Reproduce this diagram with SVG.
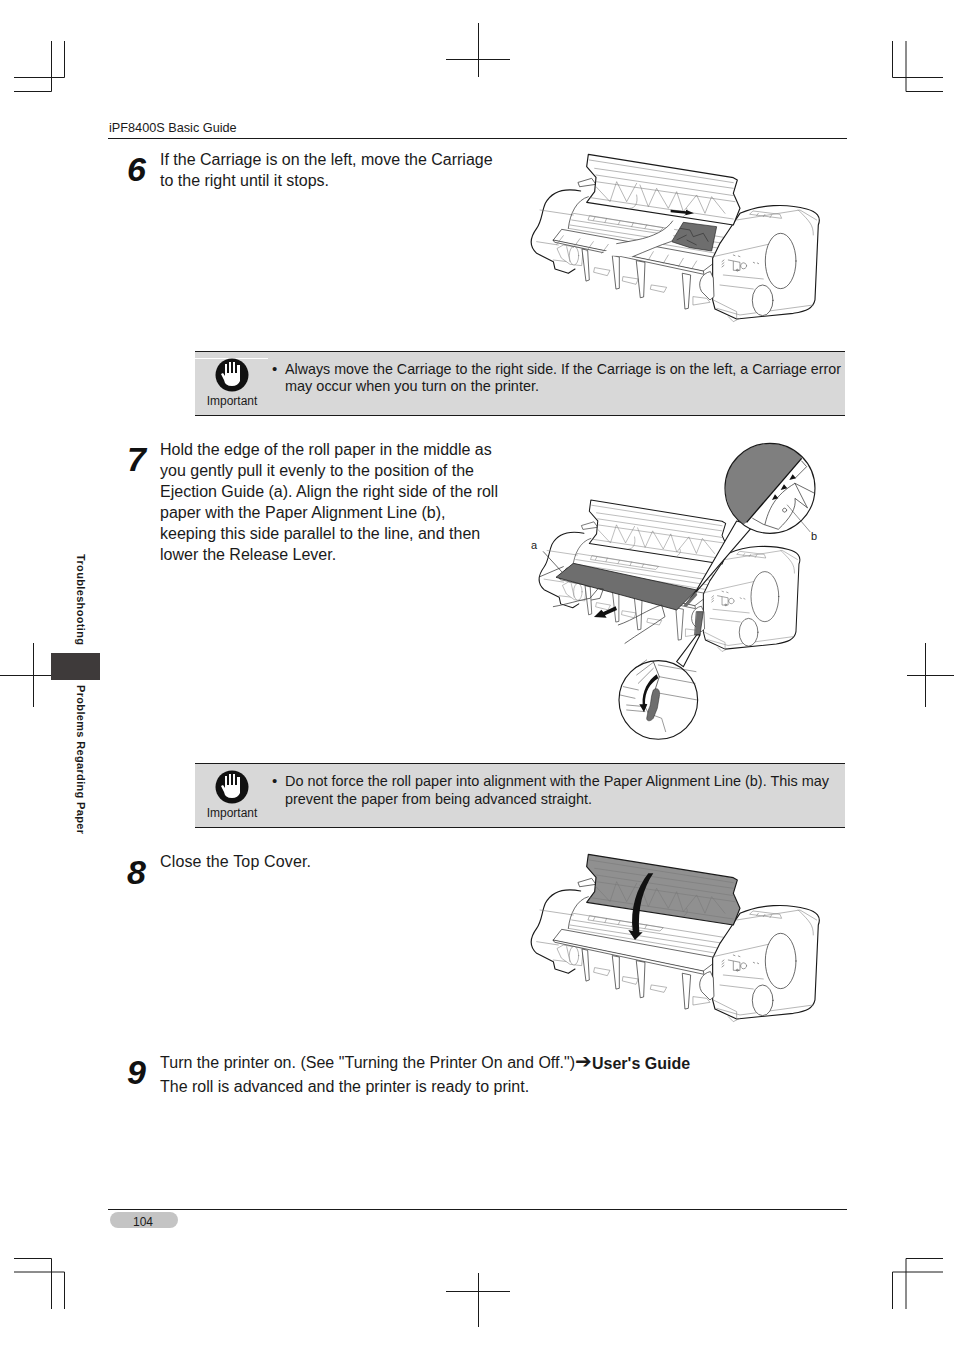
<svg xmlns="http://www.w3.org/2000/svg" width="954" height="1350" viewBox="0 0 954 1350">
<style>
text{font-family:"Liberation Sans",Arial,sans-serif;fill:#1a1a1a}
.b{font-size:16px}
.n{font-size:15px}
.num{font-size:34px;font-weight:bold;font-style:italic;fill:#111}
.imp{font-size:12px}
.side{font-size:11px;font-weight:bold}
.lbl{font-size:11px}
.crop{stroke:#1a1a1a;stroke-width:1;fill:none}
.rule{stroke:#1a1a1a;stroke-width:1.2;fill:none}
.box{fill:#d8d8d8}
.o{stroke:#1a1a1a;stroke-width:3.4;stroke-linejoin:round;stroke-linecap:round}
.t{stroke:#777;stroke-width:1.6;fill:none;stroke-linecap:round;stroke-linejoin:round}
.m{stroke:#333;stroke-width:2.2;fill:none;stroke-linecap:round;stroke-linejoin:round}
.w{fill:#fff}
.g{fill:#6e6e6e}
</style>
<defs>
<clipPath id="lens"><circle cx="750" cy="160" r="134"/></clipPath>
<g id="lid-shape">
<path class="o" d="M205,28 L200,65 L228,97 L224,140 L200,172 L640,240 L660,190 L640,145 L652,105 L640,98 Z"/>
<path class="t" d="M208,45 L640,113 M224,70 L640,130 M228,90 L642,152 M228,110 L645,170 M212,158 L640,222 M228,125 L270,170 L290,110 L320,170 L350,115 M360,120 L385,185 L410,130 L445,190 L470,140 L490,200 L530,150 L555,205 L575,155 L615,205 M350,150 C355,175 345,190 330,190 M500,190 C510,205 485,215 490,215"/>
</g>
<g id="printer-base">
<path class="w" d="M182,138 C130,128 95,140 76,175 C65,200 66,228 50,250 C28,280 28,305 50,325 L100,350 L105,372 L145,385 L190,365 L240,200 Z"/>
<path class="o" fill="none" d="M182,138 C130,128 95,140 76,175 C65,200 66,228 50,250 C28,280 28,305 50,325 L100,350 L105,372 L145,385 L165,372"/>
<path class="t" d="M60,195 L160,210 M50,290 L115,300 M100,345 L185,355"/>
<path class="m w" d="M175,112 L215,100 L228,118 L180,125 Z"/>
<path class="t" d="M160,205 L630,280 M155,225 L610,295 M150,240 L600,310 M145,250 L590,325 M210,212 L430,248 L420,258 L205,225 Z M225,216 L220,226 M260,220 L255,232 M300,228 L295,238 M340,233 L335,245 M380,240 L375,250"/>
<path class="m" d="M145,250 C150,205 170,165 205,155"/>
<path class="t w" d="M112,310 L130,300 L190,310 L185,362 L150,358 L125,340 Z M140,305 L150,350"/>
<ellipse class="t w" cx="162" cy="332" rx="14" ry="28"/>
<path class="t w" d="M225,368 L270,376 L262,392 L222,382 Z M310,395 L355,402 L348,418 L308,408 Z M395,420 L440,427 L432,442 L392,433 Z M520,455 L560,460 L570,472 L520,480 Z"/>
<path class="m w" d="M187,312 L203,316 L208,405 L199,408 Z"/>
<path class="m w" d="M278,332 L298,336 L298,430 L289,432 Z"/>
<path class="m w" d="M350,347 L375,352 L371,456 L362,458 Z"/>
<path class="m w" d="M488,385 L512,390 L505,490 L496,492 Z"/>
<path class="m w" d="M100,285 L125,253 L600,340 L550,378 Z"/>
<path class="m w" d="M100,285 L550,378 L552,388 L105,292 Z"/>
<path class="o w" d="M660,205 C720,178 800,175 860,192 C890,200 905,215 895,240 L885,465 C880,490 860,498 820,505 L650,522 L585,492 L578,465 L578,340 L600,295 L625,258 Z"/>
<path class="t" d="M580,335 L745,298 M580,465 L650,500 L650,520 M690,208 L785,220 L780,208 L700,198 Z M715,205 L710,212 M735,208 L730,215 M755,210 L750,218 M650,225 L840,195 L890,225 M600,420 L700,432 M610,390 L730,402 M590,490 L660,510 L880,480 M835,195 C870,230 880,240 880,270"/>
<path class="t" style="stroke:#444" d="M606,350 L612,345 M606,358 L612,353 M606,366 L612,361 M625,345 L660,352 L660,376 L640,376 L640,350 M655,375 A3,3 0 1 0 655,376 M680,362 A9,9 0 1 0 680,363 M700,352 L704,354 M712,354 L716,356 M640,330 L645,332 M655,333 L660,335"/>
<ellipse class="m w" cx="782" cy="348" rx="46" ry="83"/>
<ellipse class="m w" cx="728" cy="466" rx="31" ry="46"/>
<path class="m w" d="M570,380 C545,385 530,415 545,440 L570,465 L582,455 L580,400 Z"/>
<path class="t" d="M625,515 L640,530 L660,520"/>
</g>
<g id="icon">
<circle cx="0" cy="0" r="16.5" fill="#111"/>
<path fill="#fff" d="M-7,-11 L-5,-11 L-5,-2 L-3,-2 L-3,-13 L-1,-13 L-1,-2 L1,-2 L1,-13 L3,-13 L3,-2 L5,-2 L5,-10 L8,-10 L8,6 Q6,11 0,11 Q-7,11 -8,5 L-11,-1 L-9,-2 L-7,1 Z"/>
</g>
</defs>

<rect width="954" height="1350" fill="#fff"/>

<g id="crop-marks" class="crop">
<path d="M51.5,41V91.5H14M64.5,41V77.5H14"/>
<path d="M892.5,41V77.5H943M906,41V91.5H943"/>
<path d="M51.5,1309V1258.5H14M64.5,1309V1272H14"/>
<path d="M892.5,1309V1272H943M906,1309V1258.5H943"/>
<path d="M478.5,23V77M446,59.5H510M478.5,1273V1327M446,1291.5H510"/>
<path d="M33.5,643V707M0,675.5H51M925.5,643V707M907,675.5H954"/>
</g>

<g id="header">
<text x="109" y="132" font-size="12.7">iPF8400S Basic Guide</text>
<path class="rule" d="M108,138.5H847"/>
</g>

<g id="side-tab">
<rect x="51" y="653" width="49" height="27" fill="#3e3a3a"/>
<text class="side" transform="translate(77,554) rotate(90)" textLength="91" lengthAdjust="spacing">Troubleshooting</text>
<text class="side" transform="translate(77,685) rotate(90)" textLength="149" lengthAdjust="spacing">Problems Regarding Paper</text>
</g>

<g id="step-6">
<text class="num" x="127" y="181">6</text>
<text class="b" x="160" y="165">If the Carriage is on the left, move the Carriage</text>
<text class="b" x="160" y="186">to the right until it stops.</text>
<g id="figure-6" transform="translate(520,145) scale(.3333)">
<use href="#printer-base"/>
<use href="#lid-shape" fill="#fff"/>
<path class="t" d="M130,272 L110,298 M180,281 L160,308 M220,290 L200,318 M265,298 L245,325 M400,320 L385,345 M445,330 L430,355 M490,340 L475,365 M530,348 L515,372"/>
<path class="g" stroke="#222" stroke-width="2" d="M455,290 L490,232 L590,245 L575,318 L510,308 Z"/>
<path stroke="#222" stroke-width="1.6" fill="none" d="M480,250 L510,255 L520,275 L550,265 L565,290 M500,285 L530,300 M470,285 L500,270"/>
<path class="w" d="M458,228 C440,255 400,275 350,285 L290,296 L240,330 L338,335 C380,318 420,300 452,290 L464,262 Z"/>
<path class="m" d="M458,228 C440,255 400,275 350,285 L290,296 M338,335 C380,318 420,300 452,290"/>
<path fill="#111" d="M452,194 L498,199 L498,194 L522,205 L496,211 L497,206 L452,202 Z"/>
</g>
</g>

<g id="important-1">
<rect class="box" x="195" y="351" width="650" height="64"/>
<path class="rule" d="M195,351.5H845M195,415.5H845"/>
<path d="M195,358.5H268" stroke="#fff" stroke-width="1"/>
<use href="#icon" x="232" y="375"/>
<text class="imp" x="232" y="405" text-anchor="middle">Important</text>
<text class="n" x="272" y="374">•</text>
<text class="n" x="285" y="374" textLength="556" lengthAdjust="spacingAndGlyphs">Always move the Carriage to the right side. If the Carriage is on the left, a Carriage error</text>
<text class="n" x="285" y="391" textLength="254" lengthAdjust="spacingAndGlyphs">may occur when you turn on the printer.</text>
</g>

<g id="step-7">
<text class="num" x="127" y="471">7</text>
<text class="b" x="160" y="455">Hold the edge of the roll paper in the middle as</text>
<text class="b" x="160" y="476">you gently pull it evenly to the position of the</text>
<text class="b" x="160" y="497">Ejection Guide (a). Align the right side of the roll</text>
<text class="b" x="160" y="518">paper with the Paper Alignment Line (b),</text>
<text class="b" x="160" y="539">keeping this side parallel to the line, and then</text>
<text class="b" x="160" y="560">lower the Release Lever.</text>
<g id="figure-7" transform="translate(520,435) scale(.3333)">
<g transform="translate(27,170) scale(.905)">
<use href="#printer-base"/>
<use href="#lid-shape" fill="#fff"/>
</g>
<path class="g" stroke="#222" stroke-width="2.5" d="M108,427 L160,385 L530,465 L470,525 Z"/>
<path class="m" d="M100,515 C140,508 180,495 210,490 L235,460 L250,462 L240,490 L215,495 M295,570 C340,555 390,520 425,510 L435,545 C400,570 350,600 315,625"/>
<path fill="#111" d="M222,546 L244,524 L250,531 L287,514 L291,525 L255,541 L260,548 Z"/>
<path class="m" style="fill:#6e6e6e" d="M530,530 L550,530 L540,600 L525,600 Z"/>
<path class="w o" d="M530,465 L650,258 L700,272 L495,510 Z"/>
<path class="g" d="M490,512 L528,470 L532,480 L500,515 Z"/>
<path class="o w" d="M470,680 L530,600 L540,600 L490,695 Z"/>
<circle class="w" cx="750" cy="160" r="135"/>
<g clip-path="url(#lens)">
<path fill="#7f7f7f" d="M600,10 L860,10 L845,70 L680,262 L600,320 Z"/>
<path d="M680,262 L845,70" stroke="#111" stroke-width="4"/>
<path class="m" d="M698,250 L730,268 L775,283 C810,250 830,220 825,190 L862,218 M735,268 C745,225 765,180 825,145 L862,218 M825,145 L890,178 M845,78 L860,95 L825,130 M800,225 A6,6 0 1 0 800,226"/>
</g>
<circle class="o" fill="none" cx="750" cy="160" r="135"/>
<path fill="#111" d="M756,195 L765,178 L775,190 Z M782,165 L792,148 L802,160 Z M808,135 L818,118 L828,130 Z"/>
<path class="t" style="stroke:#333" d="M802,210 L870,290"/>
<circle class="w" cx="415" cy="795" r="118"/>
<path class="t" style="stroke:#444" d="M300,780 L345,790 M415,690 L528,710 M417,725 L525,745 M310,755 L355,765 M345,700 L380,675 M350,720 L400,682 M355,745 L400,700 M320,810 L375,815 L385,835 L425,850 L437,890 M320,825 L375,830 M420,775 L532,795"/>
<path class="m" d="M400,680 L418,725 L405,765"/>
<path fill="#111" d="M410,718 C385,735 365,770 368,808 L358,808 L372,832 L382,808 L375,806 C375,770 390,745 415,730 Z"/>
<path class="g" stroke="#222" stroke-width="1.5" d="M400,765 C412,755 422,765 418,785 L412,820 L400,850 C392,860 380,860 380,850 L385,825 C395,810 390,790 400,765 Z"/>
<circle class="o" fill="none" cx="415" cy="795" r="118"/>
<path class="m" d="M60,425 L130,395 M70,350 L125,410"/>
</g>
<text class="lbl" x="531" y="549">a</text>
<text class="lbl" x="811" y="540">b</text>
</g>

<g id="important-2">
<rect class="box" x="195" y="763" width="650" height="64"/>
<path class="rule" d="M195,763.5H845M195,827.5H845"/>
<use href="#icon" x="232" y="787"/>
<text class="imp" x="232" y="817" text-anchor="middle">Important</text>
<text class="n" x="272" y="786">•</text>
<text class="n" x="285" y="786" textLength="544" lengthAdjust="spacingAndGlyphs">Do not force the roll paper into alignment with the Paper Alignment Line (b). This may</text>
<text class="n" x="285" y="804" textLength="307" lengthAdjust="spacingAndGlyphs">prevent the paper from being advanced straight.</text>
</g>

<g id="step-8">
<text class="num" x="127" y="884">8</text>
<text class="b" x="160" y="867" textLength="151">Close the Top Cover.</text>
<g id="figure-8" transform="translate(520,845) scale(.3333)">
<use href="#printer-base"/>
<use href="#lid-shape" fill="#909090"/>
<path fill="#111" d="M385,85 L400,85 C370,130 352,190 358,262 L368,262 L345,285 L325,255 L338,258 C330,190 350,130 385,85 Z"/>
</g>
</g>

<g id="step-9">
<text class="num" x="127" y="1084">9</text>
<text class="b" x="160" y="1068"><tspan textLength="415">Turn the printer on. (See "Turning the Printer On and Off.")</tspan><tspan x="575" font-family="'DejaVu Sans',sans-serif" font-size="20" font-weight="bold">➔</tspan><tspan x="592" y="1069" font-weight="bold">User's Guide</tspan></text>
<text class="b" x="160" y="1092">The roll is advanced and the printer is ready to print.</text>
</g>

<g id="footer">
<path class="rule" d="M108,1209.5H847"/>
<rect x="110" y="1212" width="68" height="16" rx="8" fill="#c4c4c4"/>
<text x="143" y="1226" font-size="12" text-anchor="middle">104</text>
</g>
</svg>
